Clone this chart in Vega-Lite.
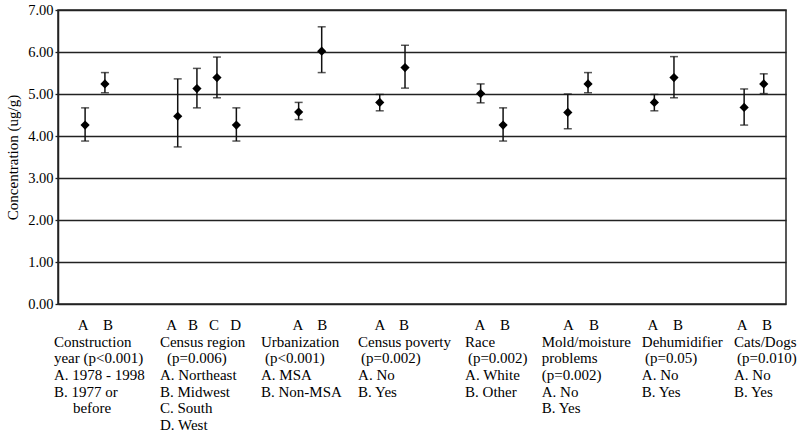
{
  "$schema": "https://vega.github.io/schema/vega-lite/v6.json",
  "padding": {"left": 4, "top": 1, "right": 5, "bottom": 0},
  "background": "white",
  "spacing": 5,
  "datasets": {
    "pts": [
      {"pos": 1.34, "group": "Construction year", "cat": "A", "mean": 4.26, "lo": 3.88, "hi": 4.67},
      {"pos": 2.32, "group": "Construction year", "cat": "B", "mean": 5.24, "lo": 5.03, "hi": 5.51},
      {"pos": 5.92, "group": "Census region", "cat": "A", "mean": 4.47, "lo": 3.74, "hi": 5.36},
      {"pos": 6.87, "group": "Census region", "cat": "B", "mean": 5.13, "lo": 4.67, "hi": 5.61},
      {"pos": 7.86, "group": "Census region", "cat": "C", "mean": 5.39, "lo": 4.91, "hi": 5.88},
      {"pos": 8.82, "group": "Census region", "cat": "D", "mean": 4.26, "lo": 3.88, "hi": 4.67},
      {"pos": 11.9, "group": "Urbanization", "cat": "A", "mean": 4.57, "lo": 4.39, "hi": 4.8},
      {"pos": 13.04, "group": "Urbanization", "cat": "B", "mean": 6.02, "lo": 5.51, "hi": 6.6},
      {"pos": 15.91, "group": "Census poverty", "cat": "A", "mean": 4.8, "lo": 4.6, "hi": 4.99},
      {"pos": 17.16, "group": "Census poverty", "cat": "B", "mean": 5.63, "lo": 5.14, "hi": 6.16},
      {"pos": 20.9, "group": "Race", "cat": "A", "mean": 5.01, "lo": 4.79, "hi": 5.24},
      {"pos": 22.01, "group": "Race", "cat": "B", "mean": 4.26, "lo": 3.88, "hi": 4.67},
      {"pos": 25.21, "group": "Mold/moisture problems", "cat": "A", "mean": 4.56, "lo": 4.17, "hi": 5.0},
      {"pos": 26.21, "group": "Mold/moisture problems", "cat": "B", "mean": 5.24, "lo": 5.03, "hi": 5.51},
      {"pos": 29.49, "group": "Dehumidifier", "cat": "A", "mean": 4.8, "lo": 4.6, "hi": 4.99},
      {"pos": 30.46, "group": "Dehumidifier", "cat": "B", "mean": 5.39, "lo": 4.91, "hi": 5.89},
      {"pos": 33.93, "group": "Cats/Dogs", "cat": "A", "mean": 4.68, "lo": 4.26, "hi": 5.12},
      {"pos": 34.9, "group": "Cats/Dogs", "cat": "B", "mean": 5.24, "lo": 5.01, "hi": 5.48}
    ],
    "letters": [
      {"x": 1.24, "line": 0, "text": "A"},
      {"x": 2.47, "line": 0, "text": "B"},
      {"x": 5.62, "line": 0, "text": "A"},
      {"x": 6.68, "line": 0, "text": "B"},
      {"x": 7.71, "line": 0, "text": "C"},
      {"x": 8.79, "line": 0, "text": "D"},
      {"x": 11.87, "line": 0, "text": "A"},
      {"x": 13.07, "line": 0, "text": "B"},
      {"x": 15.92, "line": 0, "text": "A"},
      {"x": 17.11, "line": 0, "text": "B"},
      {"x": 20.87, "line": 0, "text": "A"},
      {"x": 22.11, "line": 0, "text": "B"},
      {"x": 25.24, "line": 0, "text": "A"},
      {"x": 26.51, "line": 0, "text": "B"},
      {"x": 29.42, "line": 0, "text": "A"},
      {"x": 30.66, "line": 0, "text": "B"},
      {"x": 33.83, "line": 0, "text": "A"},
      {"x": 35.06, "line": 0, "text": "B"}
    ],
    "desc": [
      {"x": -0.2, "line": 1, "text": "Construction"},
      {"x": -0.2, "line": 2, "text": "year  (p<0.001)"},
      {"x": -0.2, "line": 3, "text": "A. 1978 - 1998"},
      {"x": -0.2, "line": 4, "text": "B. 1977 or"},
      {"x": 0.74, "line": 5, "text": "before"},
      {"x": 5.04, "line": 1, "text": "Census region"},
      {"x": 5.39, "line": 2, "text": "(p=0.006)"},
      {"x": 5.04, "line": 3, "text": "A. Northeast"},
      {"x": 5.04, "line": 4, "text": "B. Midwest"},
      {"x": 5.04, "line": 5, "text": "C. South"},
      {"x": 5.04, "line": 6, "text": "D. West"},
      {"x": 10.04, "line": 1, "text": "Urbanization"},
      {"x": 10.24, "line": 2, "text": "(p<0.001)"},
      {"x": 10.04, "line": 3, "text": "A. MSA"},
      {"x": 10.04, "line": 4, "text": "B. Non-MSA"},
      {"x": 14.84, "line": 1, "text": "Census poverty"},
      {"x": 14.98, "line": 2, "text": "(p=0.002)"},
      {"x": 14.84, "line": 3, "text": "A. No"},
      {"x": 14.84, "line": 4, "text": "B. Yes"},
      {"x": 20.13, "line": 1, "text": "Race"},
      {"x": 20.27, "line": 2, "text": "(p=0.002)"},
      {"x": 20.13, "line": 3, "text": "A. White"},
      {"x": 20.13, "line": 4, "text": "B.  Other"},
      {"x": 23.92, "line": 1, "text": "Mold/moisture"},
      {"x": 23.92, "line": 2, "text": "problems"},
      {"x": 23.92, "line": 3, "text": "(p=0.002)"},
      {"x": 23.92, "line": 4, "text": "A. No"},
      {"x": 23.92, "line": 5, "text": "B.  Yes"},
      {"x": 28.87, "line": 1, "text": "Dehumidifier"},
      {"x": 29.03, "line": 2, "text": "(p=0.05)"},
      {"x": 28.87, "line": 3, "text": "A. No"},
      {"x": 28.87, "line": 4, "text": "B.  Yes"},
      {"x": 33.43, "line": 1, "text": "Cats/Dogs"},
      {"x": 33.58, "line": 2, "text": "(p=0.010)"},
      {"x": 33.43, "line": 3, "text": "A. No"},
      {"x": 33.43, "line": 4, "text": "B.  Yes"}
    ]
  },
  "vconcat": [
    {
      "width": 728,
      "height": 294,
      "view": {"stroke": "#222", "strokeWidth": 1.5},
      "data": {"name": "pts"},
      "encoding": {
        "x": {"field": "pos", "type": "quantitative", "scale": {"domain": [0, 36], "nice": false, "zero": false}, "axis": null}
      },
      "layer": [
        {
          "mark": {"type": "rule", "color": "#111", "strokeWidth": 1.5},
          "encoding": {
            "y": {"field": "lo", "type": "quantitative", "scale": {"domain": [0, 7], "nice": false},
              "axis": {
                "values": [0, 1, 2, 3, 4, 5, 6, 7],
                "format": ".2f",
                "labelFont": "Liberation Serif",
                "labelFontSize": 14.5,
                "labelColor": "#000",
                "labelPadding": 2,
                "tickSize": 3,
                "tickColor": "#222",
                "tickWidth": 1.3,
                "domainColor": "#222",
                "domainWidth": 1.5,
                "grid": true,
                "gridColor": "#222",
                "gridWidth": 1.4,
                "title": "Concentration  (ug/g)",
                "titleFont": "Liberation Serif",
                "titleFontSize": 15,
                "titleFontWeight": "normal",
                "titleColor": "#000",
                "titlePadding": 7
              }
            },
            "y2": {"field": "hi"}
          }
        },
        {
          "mark": {"type": "tick", "orient": "horizontal", "color": "#111", "size": 8, "thickness": 1.5},
          "encoding": {"y": {"field": "lo", "type": "quantitative"}}
        },
        {
          "mark": {"type": "tick", "orient": "horizontal", "color": "#111", "size": 8, "thickness": 1.5},
          "encoding": {"y": {"field": "hi", "type": "quantitative"}}
        },
        {
          "mark": {"type": "point", "shape": "diamond", "filled": true, "color": "#000", "opacity": 1, "size": 85},
          "encoding": {"y": {"field": "mean", "type": "quantitative"}}
        }
      ]
    },
    {
      "width": 728,
      "height": 116,
      "view": {"stroke": null},
      "encoding": {
        "x": {"field": "x", "type": "quantitative", "scale": {"domain": [0, 36], "nice": false, "zero": false}, "axis": null},
        "y": {"field": "line", "type": "quantitative", "scale": {"domain": [-0.5, 6.5], "reverse": true, "nice": false, "zero": false}, "axis": null},
        "text": {"field": "text", "type": "nominal"}
      },
      "layer": [
        {
          "data": {"name": "letters"},
          "mark": {"type": "text", "font": "Liberation Serif", "align": "center", "baseline": "middle", "fontSize": 15, "color": "#000"}
        },
        {
          "data": {"name": "desc"},
          "mark": {"type": "text", "font": "Liberation Serif", "align": "left", "baseline": "middle", "fontSize": 15, "color": "#000"}
        }
      ]
    }
  ]
}
